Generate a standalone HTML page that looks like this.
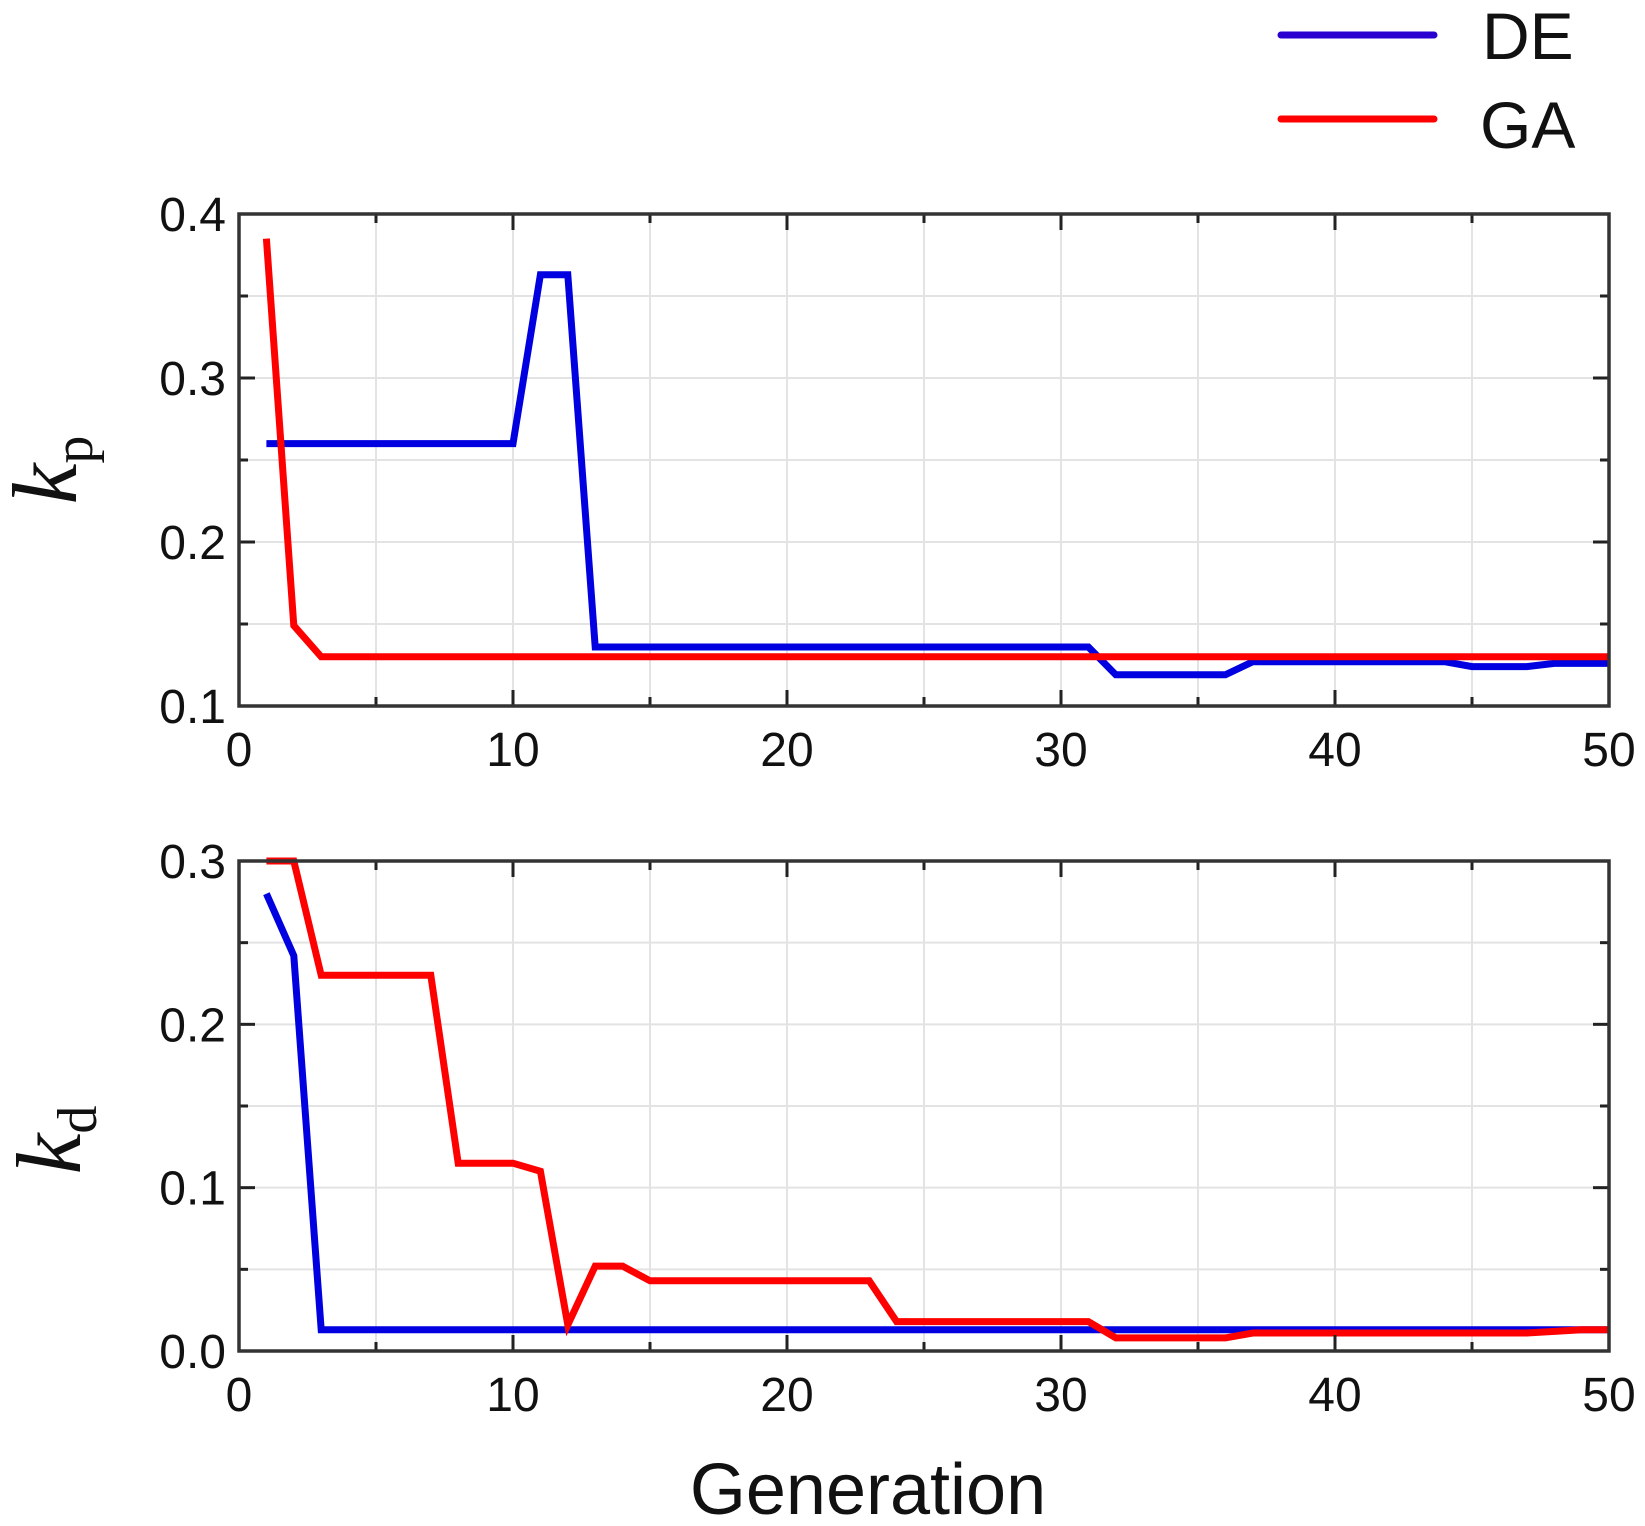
<!DOCTYPE html>
<html><head><meta charset="utf-8"><style>
html,body{margin:0;padding:0;background:#fff;}
svg{display:block;}
text{font-family:"Liberation Sans",sans-serif;fill:#111;}
</style></head><body>
<svg id="chart" width="1645" height="1526" viewBox="0 0 1645 1526" xmlns="http://www.w3.org/2000/svg">
<g id="legend">
  <g>
    <line x1="1281" y1="35" x2="1434" y2="35" stroke="#2a00d0" stroke-width="7" stroke-linecap="round"/>
    <text x="1482" y="59" font-size="66">DE</text>
  </g>
  <g>
    <line x1="1281" y1="119" x2="1434" y2="119" stroke="#ff0000" stroke-width="7" stroke-linecap="round"/>
    <text x="1480" y="148" font-size="66">GA</text>
  </g>
</g>
<g id="p1"></g>
<g id="p2"></g>
<text x="868" y="1514" font-size="72" text-anchor="middle">Generation</text>
<text transform="translate(76,470) rotate(-90)" text-anchor="middle"><tspan font-style="italic" font-size="92" style="font-family:'Liberation Serif',serif">k</tspan><tspan font-size="56" dy="16" style="font-family:'Liberation Serif',serif">p</tspan></text>
<text transform="translate(80,1140) rotate(-90)" text-anchor="middle"><tspan font-style="italic" font-size="92" style="font-family:'Liberation Serif',serif">k</tspan><tspan font-size="56" dy="16" style="font-family:'Liberation Serif',serif">d</tspan></text>
</svg>
<script>
const generations = Array.from({length:50},(_,i)=>i+1);
const kpDE = [0.26,0.26,0.26,0.26,0.26,0.26,0.26,0.26,0.26,0.26,0.363,0.363,0.136,0.136,0.136,0.136,0.136,0.136,0.136,0.136,0.136,0.136,0.136,0.136,0.136,0.136,0.136,0.136,0.136,0.136,0.136,0.119,0.119,0.119,0.119,0.119,0.127,0.127,0.127,0.127,0.127,0.127,0.127,0.127,0.124,0.124,0.124,0.126,0.126,0.126];
const kpGA = [0.385,0.149,0.130,0.130,0.130,0.130,0.130,0.130,0.130,0.130,0.130,0.130,0.130,0.130,0.130,0.130,0.130,0.130,0.130,0.130,0.130,0.130,0.130,0.130,0.130,0.130,0.130,0.130,0.130,0.130,0.130,0.130,0.130,0.130,0.130,0.130,0.130,0.130,0.130,0.130,0.130,0.130,0.130,0.130,0.130,0.130,0.130,0.130,0.130,0.130];
const kdDE = [0.28,0.242,0.013,0.013,0.013,0.013,0.013,0.013,0.013,0.013,0.013,0.013,0.013,0.013,0.013,0.013,0.013,0.013,0.013,0.013,0.013,0.013,0.013,0.013,0.013,0.013,0.013,0.013,0.013,0.013,0.013,0.013,0.013,0.013,0.013,0.013,0.013,0.013,0.013,0.013,0.013,0.013,0.013,0.013,0.013,0.013,0.013,0.013,0.013,0.013];
const kdGA = [0.3,0.3,0.23,0.23,0.23,0.23,0.23,0.115,0.115,0.115,0.11,0.016,0.052,0.052,0.043,0.043,0.043,0.043,0.043,0.043,0.043,0.043,0.043,0.018,0.018,0.018,0.018,0.018,0.018,0.018,0.018,0.008,0.008,0.008,0.008,0.008,0.011,0.011,0.011,0.011,0.011,0.011,0.011,0.011,0.011,0.011,0.011,0.012,0.013,0.013];
const xTicks = [0,10,20,30,40,50];
const kpTicks = [0.1,0.2,0.3,0.4];
const kdTicks = [0.0,0.1,0.2,0.3];

const NS="http://www.w3.org/2000/svg";
const L=239,R=1609;
function mk(tag,attrs,parent){const e=document.createElementNS(NS,tag);for(const k in attrs)e.setAttribute(k,attrs[k]);parent.appendChild(e);return e;}
const xs=v=>L+(v-0)/(50-0)*(R-L);

function panel(g,top,bot,ymin,ymax,yTicks,de,ga,prefix){
  const ys=v=>bot-(v-ymin)/(ymax-ymin)*(bot-top);
  for(let v=5;v<50;v+=5){const ln=mk('line',{x1:xs(v),x2:xs(v),y1:top,y2:bot,stroke:'#e3e3e3','stroke-width':2},g);
    
    }
  for(let v=ymin+0.05;v<ymax-0.001;v+=0.05){const ln=mk('line',{x1:L,x2:R,y1:ys(v),y2:ys(v),stroke:'#e3e3e3','stroke-width':2},g);
    
    }
  const draw=(arr,col,name)=>{const d=arr.map((v,i)=>(i?'L':'M')+xs(generations[i]).toFixed(1)+','+ys(v).toFixed(1)).join('');
    const p=mk('path',{d:d,fill:'none',stroke:col,'stroke-width':7,'stroke-linejoin':'miter'},g);
    
    };
  draw(de,'#0000e0',prefix+'-de-line');
  draw(ga,'#ff0000',prefix+'-ga-line');
  for(let v=5;v<50;v+=5){const len=(v%10===0)?16:9;
    mk('line',{x1:xs(v),x2:xs(v),y1:bot,y2:bot-len,stroke:'#222','stroke-width':3},g);
    mk('line',{x1:xs(v),x2:xs(v),y1:top,y2:top+len,stroke:'#222','stroke-width':3},g);}
  for(let v=ymin+0.05;v<ymax-0.001;v+=0.05){const maj=Math.abs(Math.round(v*10)-v*10)<1e-6;const len=maj?16:9;
    mk('line',{x1:L,x2:L+len,y1:ys(v),y2:ys(v),stroke:'#222','stroke-width':3},g);
    mk('line',{x1:R,x2:R-len,y1:ys(v),y2:ys(v),stroke:'#222','stroke-width':3},g);}
  const fr=mk('rect',{x:L,y:top,width:R-L,height:bot-top,fill:'none',stroke:'#333','stroke-width':3.5},g);
  
  
  xTicks.forEach(v=>{const t=mk('text',{x:xs(v),y:bot+60,'font-size':48,'text-anchor':'middle'},g);t.textContent=String(v);
    
    });
  yTicks.forEach(v=>{const t=mk('text',{x:226,y:ys(v)+17,'font-size':48,'text-anchor':'end'},g);t.textContent=v.toFixed(1);
    
    });
}
panel(document.getElementById('p1'),214,706,0.1,0.4,kpTicks,kpDE,kpGA,'kp');
panel(document.getElementById('p2'),861,1351,0.0,0.3,kdTicks,kdDE,kdGA,'kd');
</script>
</body></html>
